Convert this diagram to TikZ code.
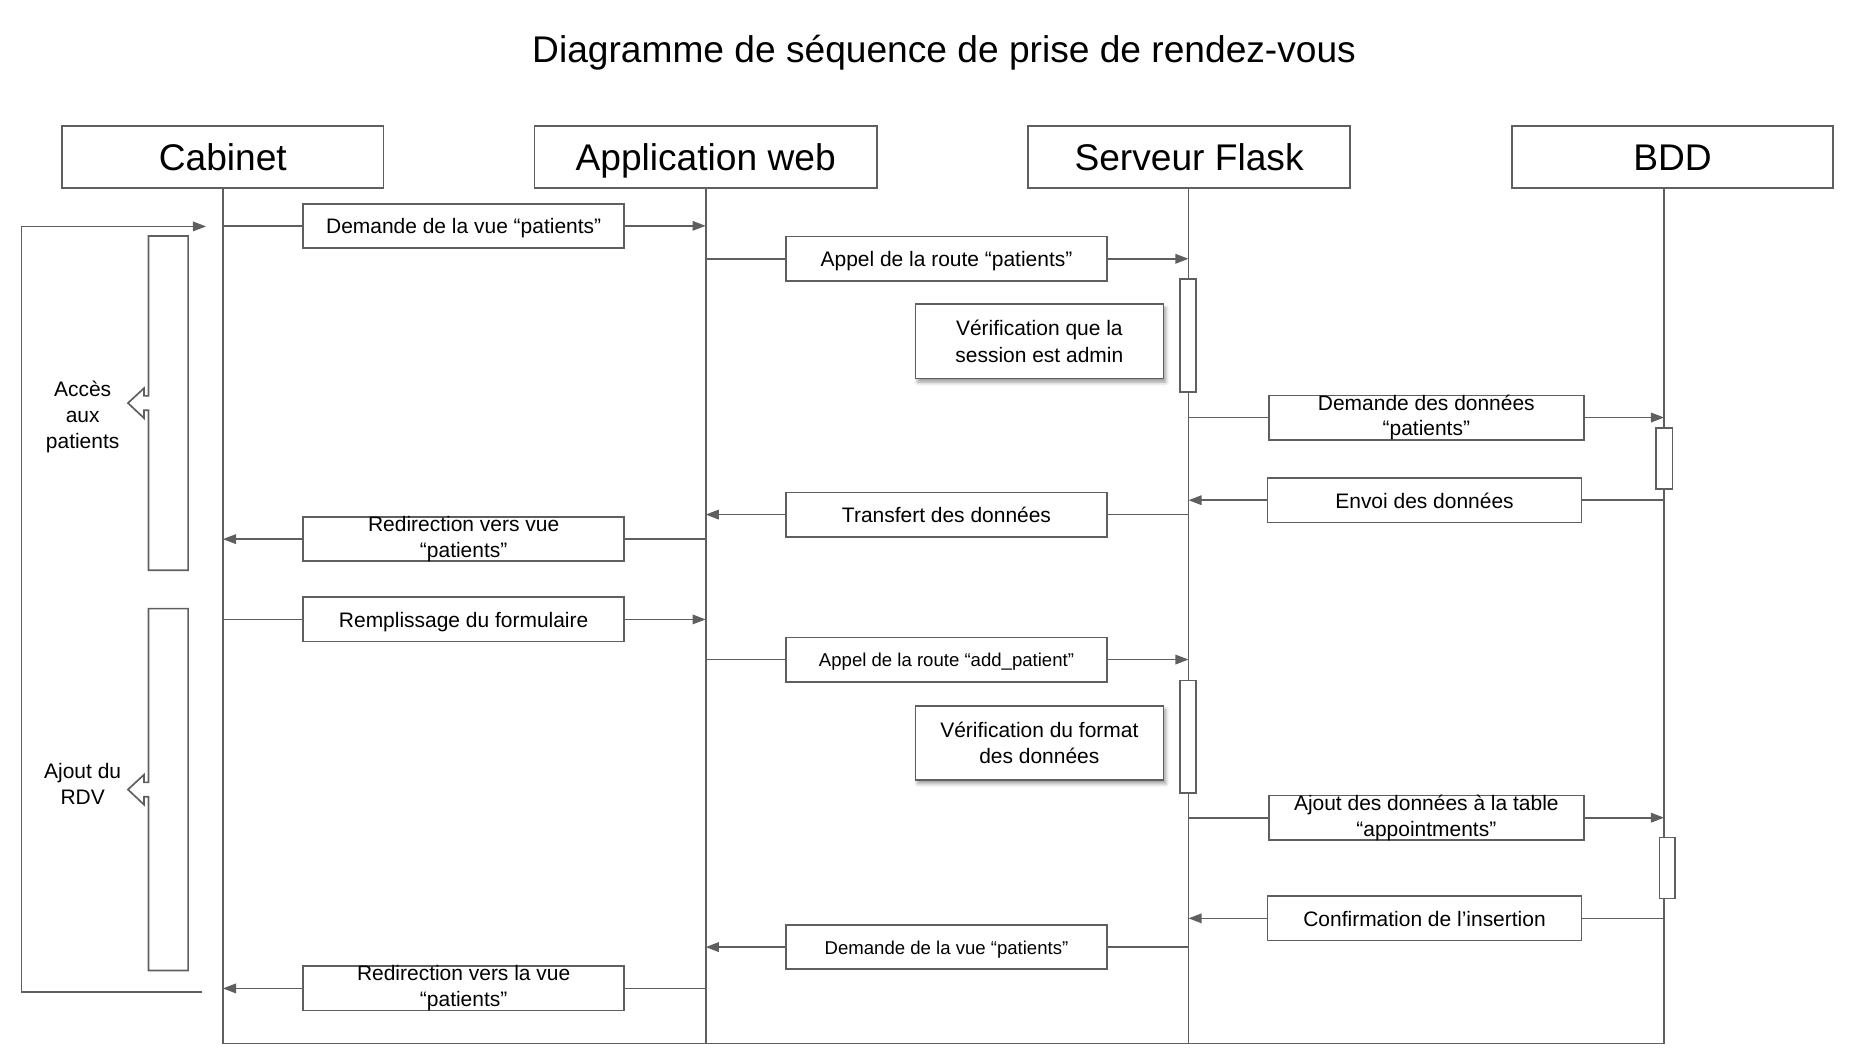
\documentclass[tikz,border=0pt]{standalone}
\usepackage{fontspec}
\setmainfont{Liberation Sans}
\usepackage{tikz}
\usetikzlibrary{arrows.meta,shadows.blur}
\definecolor{lgray}{HTML}{5F5F5F}

\begin{document}
\begin{tikzpicture}[x=1pt,y=-1pt,
	line/.style={draw=lgray,line width=1.4pt},
	arr/.style={line,-{Triangle[length=11pt,width=8pt]}},
	head/.style={line,minimum width=268pt,minimum height=52pt,inner sep=0pt,text height=22.6pt,text depth=0pt,font=\fontsize{31}{36}\selectfont},
	msg/.style={line,minimum width=268pt,minimum height=37pt,inner sep=0pt,align=center,text height=15pt,text depth=1.4pt,font=\fontsize{17.5}{21.5}\selectfont},
	small/.style={text height=13pt,text depth=0.9pt,font=\fontsize{15.5}{19}\selectfont},
	two/.style={inner ysep=-3pt,text height=,text depth=},
	note/.style={line,fill=white,minimum width=207pt,minimum height=62pt,inner sep=0pt,align=center,font=\fontsize{17.5}{22}\selectfont,blur shadow={shadow xshift=2pt,shadow yshift=-3pt,shadow blur radius=3pt}},
	act/.style={line,fill=white,minimum width=13pt,inner sep=0pt},
	side/.style={align=center,font=\fontsize{17.5}{21.5}\selectfont}]
	\useasboundingbox (0,0) rectangle (1565,880.6);
	\node[font=\fontsize{31}{36}\selectfont,text height=22.6pt,text depth=0pt] (title) at (788,41) {Diagramme de séquence de prise de rendez-vous};
	% acteurs
	\node[head] (cab) at (186,131) {Cabinet};
	\node[head,minimum width=286pt] (app) at (589,131) {Application web};
	\node[head,minimum width=269pt] (fla) at (992.5,131) {Serveur Flask};
	\node[head] (bdd) at (1396,131) {BDD};
	\coordinate (cabL) at (186,157);
	\coordinate (appL) at (589,157);
	\coordinate (flaL) at (992,157);
	\coordinate (bddL) at (1389,157);
	\coordinate (bot) at (0,871);
	\draw[line] (cabL) -- (cabL |- bot) -- (bddL |- bot) -- (bddL);
	\draw[line] (appL) -- (appL |- bot);
	\draw[line] (flaL) -- (flaL |- bot);
	% boucle a gauche
	\coordinate (loopA) at (172,189);
	\coordinate (loopB) at (169,828);
	\draw[arr] (loopB) -- (18,828) -- (18,189) -- (loopA);
	\draw[line] (124,330.4) -- (124,197) -- (157,197) -- (157,476) -- (124,476) -- (124,342.4) -- (120.2,342.4) -- (120.2,349) -- (106.8,336.4) -- (120.2,324) -- (120.2,330.4) -- cycle;
	\draw[line] (124,653) -- (124,508) -- (157,508) -- (157,810) -- (124,810) -- (124,665) -- (120.2,665) -- (120.2,671.6) -- (106.8,659) -- (120.2,646.6) -- (120.2,653) -- cycle;
	\node[side] (accTxt) at (69,348) {Accès\\aux\\patients};
	\node[side] (rdvTxt) at (69,654) {Ajout du\\RDV};
	% messages
	\node[msg] (m1) at (387,188.5) {Demande de la vue “patients”};
	\node[msg] (m2) at (790,216) {Appel de la route “patients”};
	\node[msg,two,minimum width=263pt] (m3) at (1190.5,348.5) {Demande des données\\“patients”};
	\node[msg,minimum width=262pt] (m4) at (1189,417.5) {Envoi des données};
	\node[msg] (m5) at (790,429.5) {Transfert des données};
	\node[msg,two] (m6) at (387,450) {Redirection vers vue\\“patients”};
	\node[msg] (m7) at (387,517) {Remplissage du formulaire};
	\node[msg,small] (m8) at (790,550.5) {Appel de la route “add\_patient”};
	\node[msg,two,minimum width=263pt] (m9) at (1190.5,682.5) {Ajout des données à la table\\“appointments”};
	\node[msg,minimum width=262pt] (m10) at (1189,766.5) {Confirmation de l’insertion};
	\node[msg,small] (m11) at (790,790.5) {Demande de la vue “patients”};
	\node[msg,two] (m12) at (387,825) {Redirection vers la vue\\“patients”};
	\foreach \m/\a/\b in {m1/cabL/appL,m2/appL/flaL,m3/flaL/bddL,m7/cabL/appL,m8/appL/flaL,m9/flaL/bddL}{
		\draw[line] (\a |- \m.west) -- (\m.west);
		\draw[arr] (\m.east) -- (\b |- \m.east);
	}
	\foreach \m/\a/\b in {m4/bddL/flaL,m5/flaL/appL,m6/appL/cabL,m10/bddL/flaL,m11/flaL/appL,m12/appL/cabL}{
		\draw[line] (\a |- \m.east) -- (\m.east);
		\draw[arr] (\m.west) -- (\b |- \m.west);
	}
	% activations
	\node[act,minimum height=94pt] (fa1) at (991.5,280) {};
	\node[act,minimum height=51pt,minimum width=14pt] (ba1) at (1389,382.5) {};
	\node[act,minimum height=94pt] (fa2) at (991.5,615) {};
	\node[act,minimum height=51pt] (ba2) at (1391.5,724.5) {};
	% notes
	\node[note] (n1) at (867.5,285) {Vérification que la\\session est admin};
	\node[note] (n2) at (867.5,620) {Vérification du format\\des données};
\end{tikzpicture}
\end{document}
